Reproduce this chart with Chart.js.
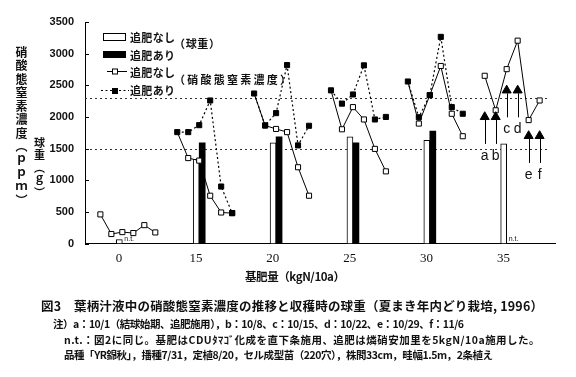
<!DOCTYPE html>
<html><head><meta charset="utf-8">
<script src="https://cdn.jsdelivr.net/npm/chart.js@4.4.1/dist/chart.umd.min.js"></script>
<style>
html,body{margin:0;padding:0;background:#fff;}
#wrap{position:relative;width:576px;height:377px;overflow:hidden;background:#fff;}
canvas{position:absolute;left:0;top:0;}
.t{position:absolute;white-space:nowrap;font-family:"Noto Sans CJK JP","Noto Sans",sans-serif;color:#111;line-height:1;font-weight:700;}
.v{writing-mode:vertical-rl;text-orientation:upright;}
</style></head><body>
<div id="wrap">
<canvas id="c" width="576" height="377"></canvas>
<div class="t v" style="left:15px;top:46px;font-size:12px;letter-spacing:1.5px;">硝酸態窒素濃度（ｐｐｍ）</div>
<div class="t v" style="left:33.5px;top:137px;font-size:11px;letter-spacing:1.5px;">球重（ｇ）</div>
<div class="t" data-w="45" style="left:130px;top:31.5px;font-size:11px;">追肥なし</div>
<div class="t" data-w="45" style="left:130px;top:49.5px;font-size:11px;">追肥あり</div>
<div class="t" data-w="45" style="left:130px;top:66.5px;font-size:11px;">追肥なし</div>
<div class="t" data-w="45" style="left:130px;top:84.5px;font-size:11px;">追肥あり</div>
<div class="t" data-w="46" style="left:174px;top:37.5px;font-size:11px;">（球重）</div>
<div class="t" data-w="117" style="left:174px;top:73.5px;font-size:11px;">（硝酸態窒素濃度）</div>
<div class="t" data-w="100" style="left:245px;top:271px;font-size:11.5px;">基肥量（kgN/10a）</div>
<div class="t" data-w="502" style="left:41px;top:299.5px;font-size:12.5px;">図3　葉柄汁液中の硝酸態窒素濃度の推移と収穫時の球重（夏まき年内どり栽培, 1996）</div>
<div class="t" data-w="411" style="left:53px;top:319px;font-size:10.5px;">注）a：10/1（結球始期、追肥施用），b：10/8、c：10/15、d：10/22、e：10/29、f：11/6</div>
<div class="t" data-w="476" style="left:64px;top:335px;font-size:10.5px;">n.t.：図2に同じ。基肥はCDUﾀﾏｺﾞ化成を直下条施用、追肥は燐硝安加里を5kgN/10a施用した。</div>
<div class="t" data-w="429" style="left:64px;top:350px;font-size:10.5px;">品種「YR錦秋」，播種7/31，定植8/20，セル成型苗（220穴），株間33cm，畦幅1.5m，2条植え</div>
</div>
<script>
// ---- data ----
const groupLabels = ['0', '15', '20', '25', '30', '35'];          // basal N (kgN/10a)
const dateLabels = ['a', 'b', 'c', 'd', 'e', 'f'];                // sampling dates
const bulbNoTop = [60, 1330, 1590, 1685, 1630, 1575];            // bulb weight (g), no topdressing
const bulbTop = [null, 1590, 1685, 1590, 1775, null];            // bulb weight (g), topdressed (null = n.t.)
const nitrateNoTop = [                                            // NO3-N (ppm), no topdressing, dates a..f
  [460, 150, 180, 165, 290, 175],
  [1760, 1350, 1310, 755, 490, 480],
  [2370, 1865, 1810, 1760, 1205, 755],
  [2420, 1805, 2155, 1960, 1495, 1140],
  [2560, 1895, 2345, 2805, 2050, 1695],
  [2650, 2105, 2755, 3205, 1950, 2260]
];
const nitrateTop = [                                              // NO3-N (ppm), topdressed, dates a..f
  null,
  [1760, 1760, 1870, 2260, 900, 480],
  [2370, 1865, 2060, 2820, 1550, 1860],
  [2420, 2210, 2355, 2815, 1960, 2000],
  [2560, 1995, 2345, 3265, 2155, 2050],
  null
];
const refLevels = [2300, 1500];                                   // dotted reference lines
const noteGroup = 5;                                              // date markers drawn at the 35 group
const noteLevels = [2000, 2000, 2420, 2420, 1700, 1700];          // arrow-head levels for a..f
const yTicks = [0, 500, 1000, 1500, 2000, 2500, 3000, 3500];

// ---- build ----
const STEP = 7;               // slots per group (6 dates + gap)
const xOf = (g, k) => g * STEP + k;
const tickPos = groupLabels.map((_, g) => xOf(g, 2) - 0.3);

function lineData(groups, hideFirst) {
  const pts = [], radii = [];
  groups.forEach((vals, g) => {
    if (!vals) return;
    if (pts.length) { pts.push({ x: xOf(g, -1), y: null }); radii.push(0); }
    vals.forEach((v, k) => { pts.push({ x: xOf(g, k), y: v }); radii.push(hideFirst(g, k) ? 0 : 3.6); });
  });
  return { pts, radii };
}
const noTop = lineData(nitrateNoTop, (g, k) => k === 0 && !!nitrateTop[g]);
const top_ = lineData(nitrateTop, () => false);
const whiteBars = bulbNoTop.map((v, g) => ({ x: xOf(g, 2) - 0.273, y: v }));
const blackBars = bulbTop.map((v, g) => ({ x: xOf(g, 2) + 0.273, y: v }));
const notes = noteLevels.map((v, k) => ({ x: xOf(noteGroup, k), y: v }));

const overlay = {
  id: 'overlay',
  beforeDatasetsDraw(chart) {
    const { ctx, chartArea: a, scales: { y } } = chart;
    ctx.save();
    ctx.strokeStyle = '#333'; ctx.lineWidth = 1; ctx.setLineDash([2, 3]);
    refLevels.forEach(v => {
      const py = Math.round(y.getPixelForValue(v)) + 0.5;
      ctx.beginPath(); ctx.moveTo(a.left, py); ctx.lineTo(a.right - 7, py); ctx.stroke();
    });
    ctx.restore();
  },
  afterDraw(chart) {
    const { ctx, chartArea: a, scales: { x, y } } = chart;
    ctx.save();
    // inward y ticks
    ctx.strokeStyle = '#000'; ctx.lineWidth = 1;
    yTicks.forEach(v => {
      const py = Math.round(y.getPixelForValue(v)) + 0.5;
      ctx.beginPath(); ctx.moveTo(a.left, py); ctx.lineTo(a.left + 4, py); ctx.stroke();
    });
    // arrows + date letters
    const meta = chart.getDatasetMeta(0);
    ctx.fillStyle = '#111';
    ctx.font = '14px "Liberation Sans Narrow", "Liberation Sans", sans-serif';
    ctx.textAlign = 'center'; ctx.textBaseline = 'middle';
    meta.data.forEach((p, i) => {
      const px = Math.round(p.x) + 0.5;
      ctx.beginPath(); ctx.moveTo(px, p.y + 3); ctx.lineTo(px, p.y + 27); ctx.stroke();
      ctx.fillText(dateLabels[i], p.x, p.y + 39);
    });
    // n.t. labels
    ctx.font = '7px "Liberation Sans", sans-serif';
    ctx.textAlign = 'left'; ctx.textBaseline = 'bottom';
    bulbTop.forEach((v, g) => {
      if (v === null) ctx.fillText('n.t.', x.getPixelForValue(xOf(g, 2)) + 2, a.bottom - 1);
    });
    // legend symbols
    ctx.fillStyle = '#fff'; ctx.strokeStyle = '#000';
    ctx.fillRect(103.5, 33.5, 22, 7); ctx.strokeRect(103.5, 33.5, 22, 7);
    ctx.fillStyle = '#000'; ctx.fillRect(103, 51, 23, 7);
    ctx.beginPath(); ctx.moveTo(107, 71.5); ctx.lineTo(127, 71.5); ctx.stroke();
    ctx.fillStyle = '#fff'; ctx.fillRect(112.5, 69, 5, 5); ctx.strokeRect(112.5, 69, 5, 5);
    ctx.setLineDash([2, 2.5]);
    ctx.beginPath(); ctx.moveTo(101, 90.5); ctx.lineTo(129, 90.5); ctx.stroke();
    ctx.setLineDash([]);
    ctx.fillStyle = '#000'; ctx.fillRect(112, 88, 6, 6);
    ctx.restore();
  }
};

new Chart(document.getElementById('c'), {
  type: 'line',
  data: {
    datasets: [
      { label: 'dates', data: notes, showLine: false, pointStyle: 'triangle', pointRadius: 5.2,
        backgroundColor: '#000', borderColor: '#000', borderWidth: 1 },
      { label: '追肥あり（硝酸態窒素濃度）', data: top_.pts, borderColor: '#000', borderWidth: 1.2,
        borderDash: [2, 2.5], tension: 0, spanGaps: false, pointStyle: 'rect', pointRadius: top_.radii,
        pointBackgroundColor: '#000', pointBorderColor: '#000', pointBorderWidth: 1 },
      { label: '追肥なし（硝酸態窒素濃度）', data: noTop.pts, borderColor: '#000', borderWidth: 1,
        tension: 0, spanGaps: false, pointStyle: 'rect', pointRadius: noTop.radii,
        pointBackgroundColor: '#fff', pointBorderColor: '#000', pointBorderWidth: 1 },
      { type: 'bar', label: '追肥あり（球重）', data: blackBars, grouped: false, barThickness: 6,
        backgroundColor: '#000', borderColor: '#000', borderWidth: 0 },
      { type: 'bar', label: '追肥なし（球重）', data: whiteBars, grouped: false, barThickness: 6,
        backgroundColor: '#fff', borderColor: '#000', borderWidth: 1, borderSkipped: 'start' }
    ]
  },
  options: {
    responsive: false, animation: false, devicePixelRatio: 1,
    layout: { padding: { left: 0, right: 21, top: 22, bottom: 0 } },
    plugins: { legend: { display: false }, tooltip: { enabled: false } },
    scales: {
      x: {
        type: 'linear', min: -1.4, max: 41.4, offset: false,
        grid: { display: false, drawTicks: false },
        border: { display: true, color: '#000', width: 1 },
        afterBuildTicks: s => { s.ticks = tickPos.map(v => ({ value: v })); },
        afterFit: s => { s.height = 377 - 243.5; },
        ticks: { autoSkip: false, maxRotation: 0, padding: 7, color: '#111',
          font: { family: '"Liberation Serif", serif', size: 13 },
          callback: (v, i) => groupLabels[i] }
      },
      y: {
        min: 0, max: 3500,
        grid: { display: false, drawTicks: false },
        border: { display: true, color: '#000', width: 1 },
        afterBuildTicks: s => { s.ticks = yTicks.map(v => ({ value: v })); },
        afterFit: s => { s.width = 85; },
        ticks: { padding: 11, color: '#111', callback: v => String(v),
          font: { family: '"Liberation Sans", sans-serif', size: 11, weight: 'bold' } }
      }
    }
  },
  plugins: [overlay]
});

function fitText() {
  document.querySelectorAll('[data-w]').forEach(el => {
    el.style.letterSpacing = '0px';
    const nat = el.getBoundingClientRect().width;
    const n = [...el.textContent].length;
    el.style.letterSpacing = ((parseFloat(el.dataset.w) - nat) / Math.max(1, n - 1)) + 'px';
  });
}
fitText();
if (document.fonts && document.fonts.ready) document.fonts.ready.then(fitText);
</script>
</body></html>
